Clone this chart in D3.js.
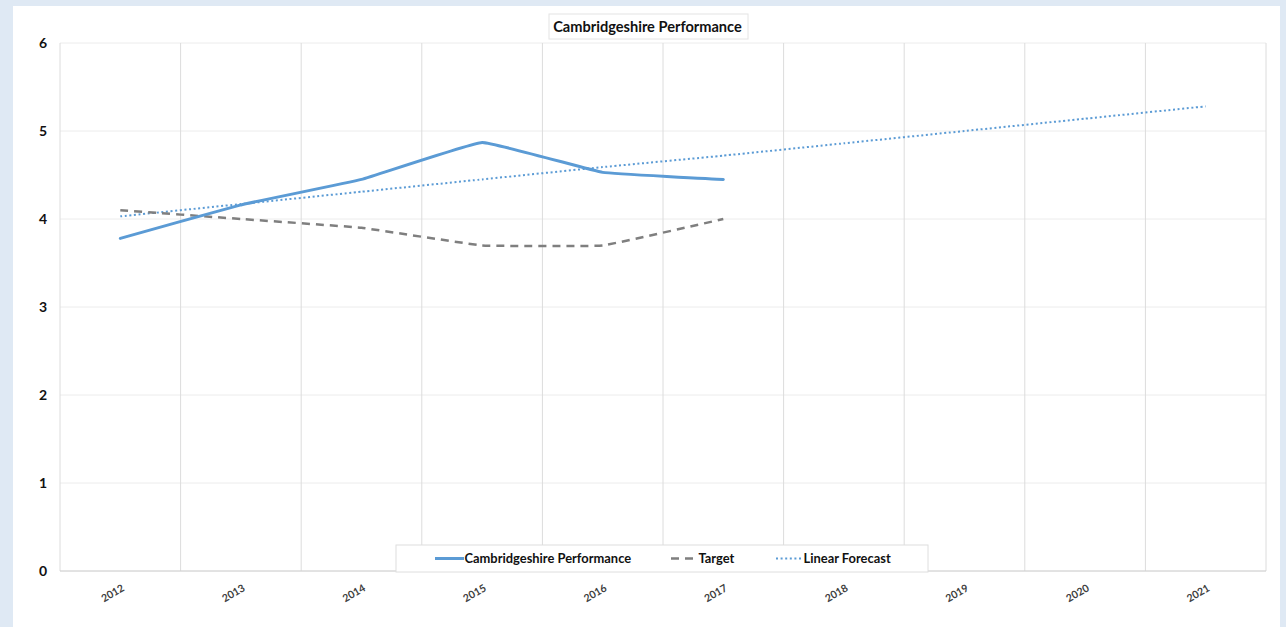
<!DOCTYPE html>
<html><head><meta charset="utf-8">
<script src="https://cdn.jsdelivr.net/npm/d3@7/dist/d3.min.js"></script>
<style>
html,body{margin:0;padding:0;background:#dfe9f4;}
svg{display:block;font-family:Lato,"Open Sans",sans-serif;}
</style></head>
<body>
<script>
const years = ["2012","2013","2014","2015","2016","2017","2018","2019","2020","2021"];
const performance = [3.78, 4.16, 4.45, 4.87, 4.53, 4.45];
const target = [4.1, 4.0, 3.9, 3.7, 3.7, 4.0];
const forecast = [4.03, 4.17, 4.31, 4.45, 4.59, 4.72, 4.86, 5.00, 5.14, 5.28];
const yTicks = [0,1,2,3,4,5,6];
const title = "Cambridgeshire Performance";
const seriesNames = ["Cambridgeshire Performance","Target","Linear Forecast"];

const W = 1286, H = 627;
const svg = d3.select("body").append("svg").attr("width", W).attr("height", H);

// panel
svg.append("rect").attr("x",13).attr("y",6).attr("width",1267).attr("height",H-6).attr("fill","#ffffff");

const x = d3.scaleBand().domain(years).range([60,1266]).padding(0);
const y = d3.scaleLinear().domain([0,6]).range([571,43]);

// horizontal gridlines
svg.append("g").selectAll("line").data(yTicks).join("line")
  .attr("x1",60).attr("x2",1266)
  .attr("y1",d=>y(d)).attr("y2",d=>y(d))
  .attr("stroke","#ececec").attr("stroke-width",1);
// vertical gridlines (band boundaries)
const bounds = years.map(d=>x(d)).concat([x.range()[1]]);
svg.append("g").selectAll("line").data(bounds).join("line")
  .attr("x1",d=>d).attr("x2",d=>d).attr("y1",y(6)).attr("y2",y(0))
  .attr("stroke","#dcdcdc").attr("stroke-width",1);
// axis line
svg.append("line").attr("x1",60).attr("x2",1266).attr("y1",y(0)).attr("y2",y(0))
  .attr("stroke","#d0d0d0").attr("stroke-width",1.2);

// Y axis labels
const yAxis = d3.axisLeft(y).tickValues(yTicks).tickSize(0).tickPadding(0).tickFormat(d3.format("d"));
const gy = svg.append("g").attr("transform","translate(47,0)").call(yAxis);
gy.select(".domain").remove();
gy.selectAll("text").attr("font-size",14).attr("font-weight","bold").attr("fill","#111")
  .attr("font-family","Lato,sans-serif");

// X axis labels
const xAxis = d3.axisBottom(x).tickSize(0).tickPadding(0);
const gx = svg.append("g").call(xAxis);
gx.select(".domain").remove();
gx.selectAll(".tick").attr("transform",d=>`translate(${x(d)+x.bandwidth()/2+3},587)`);
gx.selectAll("text").attr("y",0).attr("dy","0.35em").attr("text-anchor","end")
  .attr("transform","rotate(-30)")
  .attr("font-size",10.5).attr("font-weight","bold").attr("fill","#404040")
  .attr("font-family","Lato,sans-serif");

const cx = (d,i)=>x(years[i])+x.bandwidth()/2;
const line = d3.line().x((d,i)=>cx(d,i)).y(d=>y(d)).curve(d3.curveCardinal.tension(0.75));

svg.append("path").datum(forecast).attr("d",line).attr("fill","none")
  .attr("stroke","#5b9bd5").attr("stroke-width",2).attr("stroke-dasharray","2,2.6");
svg.append("path").datum(target).attr("d",line).attr("fill","none")
  .attr("stroke","#7f7f7f").attr("stroke-width",2.5).attr("stroke-dasharray","8,6");
svg.append("path").datum(performance).attr("d",line).attr("fill","none")
  .attr("stroke","#5b9bd5").attr("stroke-width",3).attr("stroke-linecap","round");

// Title box
const tg = svg.append("g");
tg.append("rect").attr("x",549).attr("y",14).attr("width",199).attr("height",25)
  .attr("fill","#fff").attr("stroke","#e4e4e4");
tg.append("text").attr("x",647.5).attr("y",27).attr("dy","0.35em").attr("text-anchor","middle")
  .attr("font-size",14.6).attr("font-weight","bold").attr("fill","#111").text(title);

// Legend
const lg = svg.append("g");
lg.append("rect").attr("x",396).attr("y",545).attr("width",532).attr("height",27)
  .attr("fill","#fff").attr("stroke","#dedede");
const items = [
  {name:seriesNames[0], x0:435, x1:464, color:"#5b9bd5", w:3, dash:null},
  {name:seriesNames[1], x0:671, x1:698, color:"#7f7f7f", w:2.5, dash:"8,6"},
  {name:seriesNames[2], x0:776, x1:803, color:"#5b9bd5", w:2, dash:"2,2.6"}
];
items.forEach(it=>{
  const l = lg.append("line").attr("x1",it.x0).attr("x2",it.x1).attr("y1",558.5).attr("y2",558.5)
    .attr("stroke",it.color).attr("stroke-width",it.w);
  if(it.dash) l.attr("stroke-dasharray",it.dash);
  lg.append("text").attr("x",it.x1+0.5).attr("y",558.5).attr("dy","0.35em")
    .attr("font-size",12.9).attr("font-weight","bold").attr("fill","#111").text(it.name);
});
</script>
</body></html>
